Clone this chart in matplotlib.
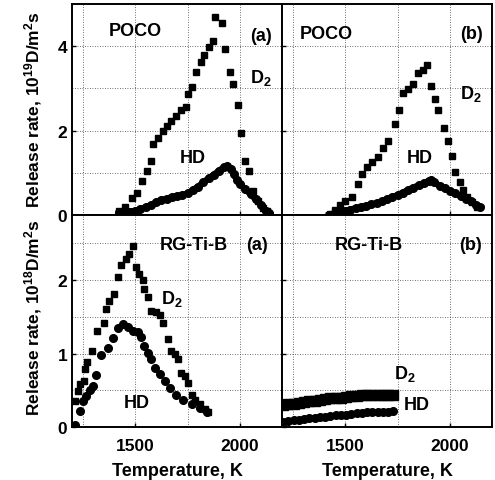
import matplotlib
matplotlib.use("Agg")
import matplotlib.pyplot as plt

plt.rcParams['font.family'] = ['Liberation Sans', 'DejaVu Sans']
plt.rcParams['font.weight'] = 'bold'
plt.rcParams['axes.labelweight'] = 'bold'
plt.rcParams['mathtext.fontset'] = 'custom'
plt.rcParams['mathtext.rm'] = 'Liberation Sans:bold'
plt.rcParams['mathtext.default'] = 'rm'

# POCO (a)
poco_a_d2_t = [1422, 1453, 1484, 1508, 1531, 1555, 1575, 1586, 1609, 1633, 1653, 1672, 1695, 1719, 1742,
               1750, 1773, 1789, 1812, 1828, 1852, 1872, 1883, 1914, 1930, 1950, 1966, 1989, 2005, 2023,
               2044, 2062, 2086, 2109, 2128]
poco_a_d2_v = [0.10, 0.21, 0.41, 0.53, 0.81, 1.05, 1.29, 1.68, 1.84, 2.00, 2.12, 2.24, 2.36, 2.48, 2.56,
               2.87, 3.03, 3.39, 3.63, 3.79, 3.98, 4.12, 4.70, 4.54, 3.94, 3.39, 3.11, 2.60, 1.94, 1.29,
               1.05, 0.57, 0.33, 0.17, 0.10]
poco_a_hd_t = [1422, 1450, 1475, 1500, 1525, 1550, 1575, 1600, 1625, 1650, 1675, 1700, 1725, 1750, 1775,
               1800, 1825, 1850, 1875, 1900, 1925, 1940, 1955, 1970, 1985, 2000, 2025, 2050, 2075, 2100,
               2125, 2140]
poco_a_hd_v = [0.05, 0.07, 0.09, 0.10, 0.15, 0.19, 0.24, 0.31, 0.36, 0.40, 0.43, 0.45, 0.48, 0.52, 0.60,
               0.68, 0.78, 0.88, 0.96, 1.06, 1.14, 1.17, 1.10, 0.98, 0.84, 0.74, 0.62, 0.50, 0.38, 0.25,
               0.10, 0.05]

# POCO (b)
poco_b_d2_t = [1429, 1453, 1476, 1500, 1532, 1560, 1579, 1603, 1627, 1658, 1682, 1706, 1737, 1756, 1777,
               1801, 1824, 1848, 1872, 1892, 1908, 1930, 1943, 1970, 1990, 2009, 2025, 2046, 2062, 2082,
               2104, 2130]
poco_b_d2_v = [0.04, 0.12, 0.24, 0.34, 0.44, 0.75, 0.99, 1.15, 1.27, 1.39, 1.59, 1.75, 2.17, 2.48, 2.90,
               2.98, 3.10, 3.36, 3.44, 3.55, 3.06, 2.74, 2.50, 2.06, 1.77, 1.40, 1.03, 0.79, 0.60, 0.44,
               0.32, 0.21]
poco_b_hd_t = [1425, 1450, 1475, 1500, 1525, 1550, 1575, 1600, 1625, 1650, 1675, 1700, 1725, 1750, 1775,
               1800, 1825, 1850, 1875, 1900, 1910, 1925, 1950, 1975, 2000, 2025, 2050, 2075, 2100, 2125,
               2145]
poco_b_hd_v = [0.02, 0.05, 0.08, 0.11, 0.14, 0.17, 0.20, 0.23, 0.26, 0.29, 0.33, 0.38, 0.43, 0.48, 0.54,
               0.60, 0.66, 0.71, 0.76, 0.82, 0.84, 0.78, 0.70, 0.64, 0.58, 0.52, 0.46, 0.40, 0.33, 0.25,
               0.20]

# RG-Ti-B (a)
rg_a_d2_t = [1215, 1228, 1240, 1256, 1264, 1272, 1296, 1320, 1353, 1361, 1377, 1401, 1417, 1433, 1457,
             1473, 1489, 1505, 1521, 1537, 1545, 1561, 1577, 1601, 1617, 1633, 1657, 1673, 1689, 1705,
             1721, 1737, 1753, 1769, 1785, 1809, 1833, 1849]
rg_a_d2_v = [0.35, 0.49, 0.58, 0.63, 0.79, 0.88, 1.04, 1.31, 1.42, 1.61, 1.72, 1.81, 2.04, 2.20, 2.29,
             2.36, 2.47, 2.18, 2.09, 2.00, 1.88, 1.77, 1.58, 1.56, 1.52, 1.42, 1.20, 1.04, 0.99, 0.92,
             0.74, 0.69, 0.60, 0.44, 0.37, 0.31, 0.24, 0.21]
rg_a_hd_t = [1216, 1236, 1250, 1265, 1285, 1300, 1313, 1337, 1370, 1394, 1418, 1441, 1465, 1489, 1513,
             1529, 1545, 1561, 1577, 1593, 1617, 1641, 1665, 1697, 1729, 1769, 1809, 1841]
rg_a_hd_v = [0.03, 0.22, 0.36, 0.42, 0.50, 0.56, 0.71, 0.98, 1.07, 1.21, 1.35, 1.40, 1.36, 1.31, 1.29,
             1.22, 1.10, 1.01, 0.92, 0.81, 0.72, 0.63, 0.53, 0.44, 0.37, 0.31, 0.26, 0.21]

# RG-Ti-B (b)
rg_b_t = [1205, 1230, 1255, 1280, 1305, 1330, 1355, 1380, 1405, 1430, 1455, 1480, 1505, 1530, 1555,
          1580, 1605, 1630, 1655, 1680, 1705, 1730]
rg_b_d2_v = [0.30, 0.31, 0.32, 0.33, 0.34, 0.35, 0.36, 0.37, 0.38, 0.39, 0.40, 0.40, 0.41, 0.42, 0.42,
             0.43, 0.43, 0.43, 0.44, 0.44, 0.44, 0.44]
rg_b_hd_v = [0.07, 0.08, 0.09, 0.10, 0.11, 0.12, 0.13, 0.14, 0.14, 0.15, 0.16, 0.17, 0.17, 0.18, 0.19,
             0.19, 0.20, 0.20, 0.21, 0.21, 0.21, 0.22]

fig, axes = plt.subplots(2, 2, figsize=(4.95, 4.81), dpi=100)
fig.subplots_adjust(left=0.1455, right=0.994, top=0.99, bottom=0.11, wspace=0, hspace=0)

sq = dict(marker='s', ms=5, color='black', ls='none')
ci = dict(marker='o', ms=5.5, color='black', lw=4.5, ls='-')

ax = axes[0, 0]
ax.plot(poco_a_d2_t, poco_a_d2_v, **sq)
ax.plot(poco_a_hd_t, poco_a_hd_v, **ci)
ax = axes[0, 1]
ax.plot(poco_b_d2_t, poco_b_d2_v, **sq)
ax.plot(poco_b_hd_t, poco_b_hd_v, **ci)
ax = axes[1, 0]
ax.plot(rg_a_d2_t, rg_a_d2_v, **sq)
ax.plot(rg_a_hd_t, rg_a_hd_v, marker='o', ms=5.5, color='black', ls='none')
ax = axes[1, 1]
ax.plot(rg_b_t, rg_b_d2_v, marker='s', ms=6.5, color='black', lw=6)
ax.plot(rg_b_t, rg_b_hd_v, marker='o', ms=5.5, color='black', lw=3.5)

for i in range(2):
    for j in range(2):
        ax = axes[i, j]
        ax.set_xlim(1200, 2200)
        ax.set_xticks([1500, 2000])
        ax.set_xticks([1250, 1750], minor=True)
        if i == 0:
            ax.set_ylim(0, 5)
            ax.set_yticks([0, 2, 4])
            ax.set_yticks([1, 3], minor=True)
        else:
            ax.set_ylim(0, 2.88)
            ax.set_yticks([0, 1, 2])
            ax.set_yticks([0.5, 1.5, 2.5], minor=True)
        ax.grid(True, which='both', color='0.25', ls=(0, (1, 2)), lw=0.6)
        ax.tick_params(which='both', direction='in', length=3, width=1, labelsize=12.5)
        ax.tick_params(axis='x', pad=8)
        ax.tick_params(which='minor', length=0)
        if i == 0:
            ax.tick_params(labelbottom=False)
        if j == 1:
            ax.tick_params(labelleft=False)
        for s in ax.spines.values():
            s.set_linewidth(1.4)

fs = 13
axes[0, 0].text(1500, 4.38, 'POCO', ha='center', va='center', fontsize=fs)
axes[0, 0].text(2100, 4.26, '(a)', ha='center', va='center', fontsize=fs)
axes[0, 0].text(2100, 3.26, 'D$_2$', ha='center', va='center', fontsize=fs)
axes[0, 0].text(1775, 1.38, 'HD', ha='center', va='center', fontsize=fs)

axes[0, 1].text(1410, 4.29, 'POCO', ha='center', va='center', fontsize=fs)
axes[0, 1].text(2100, 4.29, '(b)', ha='center', va='center', fontsize=fs)
axes[0, 1].text(2100, 2.9, 'D$_2$', ha='center', va='center', fontsize=fs)
axes[0, 1].text(1856, 1.36, 'HD', ha='center', va='center', fontsize=fs)

axes[1, 0].text(1779, 2.48, 'RG-Ti-B', ha='center', va='center', fontsize=fs)
axes[1, 0].text(2082, 2.48, '(a)', ha='center', va='center', fontsize=fs)
axes[1, 0].text(1675, 1.75, 'D$_2$', ha='center', va='center', fontsize=fs)
axes[1, 0].text(1510, 0.34, 'HD', ha='center', va='center', fontsize=fs)

axes[1, 1].text(1611, 2.49, 'RG-Ti-B', ha='center', va='center', fontsize=fs)
axes[1, 1].text(2096, 2.49, '(b)', ha='center', va='center', fontsize=fs)
axes[1, 1].text(1785, 0.74, 'D$_2$', ha='center', va='center', fontsize=fs)
axes[1, 1].text(1841, 0.31, 'HD', ha='center', va='center', fontsize=fs)

axes[1, 0].set_xlabel('Temperature, K', fontsize=fs, labelpad=6)
axes[1, 1].set_xlabel('Temperature, K', fontsize=fs, labelpad=6)

fig.text(0.066, 0.772, 'Release rate, 10$^{19}$D/m$^2$s', rotation=90, ha='center', va='center', fontsize=12.5)
fig.text(0.066, 0.339, 'Release rate, 10$^{18}$D/m$^2$s', rotation=90, ha='center', va='center', fontsize=12.5)

fig.savefig('out.png', dpi=100)
